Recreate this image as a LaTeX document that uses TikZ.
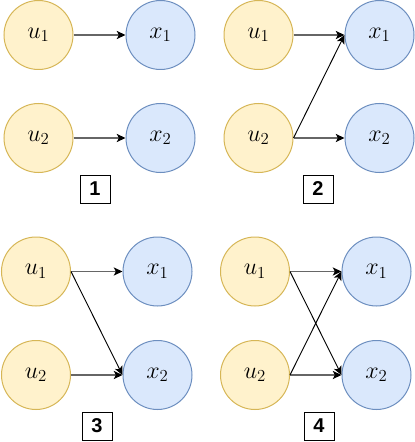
\RequirePackage{fix-cm}
\documentclass[tikz,border=0pt]{standalone}
\usepackage{fontspec}
\newfontfamily\boxfont{Liberation Sans}
\usetikzlibrary{arrows.meta}
\definecolor{ufill}{HTML}{FFF2CC}
\definecolor{udraw}{HTML}{D6B656}
\definecolor{xfill}{HTML}{DAE8FC}
\definecolor{xdraw}{HTML}{6C8EBF}
\definecolor{edgegray}{HTML}{666666}
\begin{document}
\begin{tikzpicture}[x=0.75pt,y=-0.75pt,
  unode/.style={circle,draw=udraw,fill=ufill,line width=0.75pt,minimum size=51.75pt,inner sep=0pt,font=\fontsize{18}{21}\selectfont},
  xnode/.style={circle,draw=xdraw,fill=xfill,line width=0.75pt,minimum size=51.75pt,inner sep=0pt,font=\fontsize{18}{21}\selectfont},
  numbox/.style={draw=black,line width=0.75pt,minimum width=22.5pt,minimum height=21pt,inner sep=0pt,font=\boxfont\bfseries\fontsize{15}{18}\selectfont},
  harrow/.style={draw=edgegray,line width=1.4pt,-{Stealth[length=6.5pt,width=6pt,inset=1.5pt,color=black]}},
  darrow/.style={draw=black,line width=0.7pt,-{Stealth[length=6.5pt,width=6pt,inset=1.5pt]}}]
\useasboundingbox (0,0) rectangle (414,442);
% Panel 1
\node[unode] (au1) at (38.5,35) {$u_1$};
\node[xnode] (ax1) at (160.5,35) {$x_1$};
\node[unode] (au2) at (38.5,138) {$u_2$};
\node[xnode] (ax2) at (160.5,138) {$x_2$};
\node[numbox] (ab) at (95,189) {1};
\draw[harrow] (au1.east) -- (ax1.west);
\draw[harrow] (au2.east) -- (ax2.west);
% Panel 2
\node[unode] (bu1) at (258.5,35) {$u_1$};
\node[xnode] (bx1) at (379.5,35) {$x_1$};
\node[unode] (bu2) at (258.5,138) {$u_2$};
\node[xnode] (bx2) at (379.5,138) {$x_2$};
\node[numbox] (bb) at (318,189) {2};
\draw[harrow] (bu1.east) -- (bx1.west);
\draw[harrow] (bu2.east) -- (bx2.west);
\draw[darrow] (bu2.east) -- (bx1.west);
% Panel 3
\node[unode] (cu1) at (36,271.5) {$u_1$};
\node[xnode] (cx1) at (157.5,271.5) {$x_1$};
\node[unode] (cu2) at (36,375) {$u_2$};
\node[xnode] (cx2) at (157.5,375) {$x_2$};
\node[numbox] (cb) at (97,426) {3};
\draw[harrow] (cu1.east) -- (cx1.west);
\draw[harrow] (cu2.east) -- (cx2.west);
\draw[darrow] (cu1.east) -- (cx2.west);
% Panel 4
\node[unode] (du1) at (255,271.5) {$u_1$};
\node[xnode] (dx1) at (376.5,271.5) {$x_1$};
\node[unode] (du2) at (255,375) {$u_2$};
\node[xnode] (dx2) at (376.5,375) {$x_2$};
\node[numbox] (db) at (319,426) {4};
\draw[harrow] (du1.east) -- (dx1.west);
\draw[harrow] (du2.east) -- (dx2.west);
\draw[darrow] (du1.east) -- (dx2.west);
\draw[darrow] (du2.east) -- (dx1.west);
\end{tikzpicture}
\end{document}
